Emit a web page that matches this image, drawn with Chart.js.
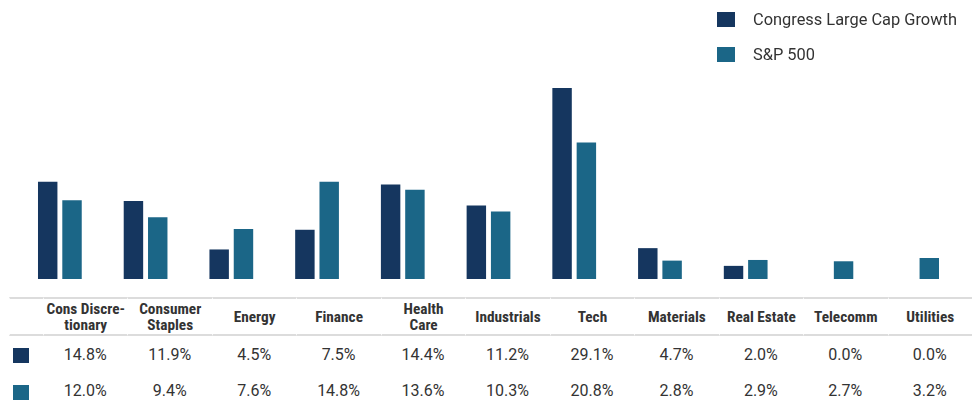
<!DOCTYPE html>
<html><head><meta charset="utf-8">
<script src="https://cdn.jsdelivr.net/npm/chart.js@4/dist/chart.umd.min.js"></script>
<style>
html,body{margin:0;padding:0;background:#fff;}
body{width:973px;height:407px;position:relative;overflow:hidden;font-family:Roboto,"Liberation Sans",sans-serif;}
#wrap{position:absolute;left:0;top:0;width:973px;height:279px;}
#legend{position:absolute;left:717px;top:12px;}
.li{display:flex;align-items:center;height:15px;margin-bottom:20px;font-size:16.4px;color:#333;white-space:nowrap;}
.sw{width:18px;height:15px;margin-right:18px;flex:none;}
table{position:absolute;left:9px;top:297px;border-collapse:separate;border-spacing:0;table-layout:fixed;width:963px;}
col.c0{width:34px;}
th{font-family:"Liberation Sans Narrow","Roboto Condensed","DejaVu Sans Condensed",sans-serif;font-weight:bold;font-size:15.3px;line-height:16px;color:#333;text-align:center;height:35px;padding:0 1px;border-top:2px solid #dcdcdc;border-bottom:2px solid #dcdcdc;border-left:1px solid #fff;}
td{font-size:16px;color:#333;text-align:center;height:36.6px;padding:0;}
td.k{text-align:left;padding-left:4px;}
.ks{display:inline-block;width:16px;height:15px;vertical-align:middle;}
</style>
</head><body>
<div id="wrap"><canvas id="c" width="973" height="279"></canvas></div>
<div id="legend"></div>
<table id="tbl"></table>
<script>
const categories = ["Cons Discre-\ntionary","Consumer\nStaples","Energy","Finance","Health\nCare","Industrials","Tech","Materials","Real Estate","Telecomm","Utilities"];
const seriesNames = ["Congress Large Cap Growth","S&P 500"];
const clcgValues = [14.8, 11.9, 4.5, 7.5, 14.4, 11.2, 29.1, 4.7, 2.0, 0.0, 0.0];
const spValues = [12.0, 9.4, 7.6, 14.8, 13.6, 10.3, 20.8, 2.8, 2.9, 2.7, 3.2];
const colors = ["#15365f", "#1b6687"];

const seriesValues = [clcgValues, spValues];

new Chart(document.getElementById('c'), {
  type: 'bar',
  data: {
    labels: categories,
    datasets: seriesNames.map((n, i) => ({
      label: n,
      data: seriesValues[i],
      backgroundColor: colors[i],
      borderWidth: 0,
      categoryPercentage: 0.567,
      barPercentage: 0.8
    }))
  },
  options: {
    responsive: false,
    animation: false,
    layout: {padding: {left: 17, right: 13, top: 0, bottom: 0}},
    scales: {
      x: {display: false},
      y: {display: false, min: 0, max: 42.5}
    },
    plugins: {legend: {display: false}, tooltip: {enabled: false}}
  }
});

// legend
const lg = document.getElementById('legend');
seriesNames.forEach((n, i) => {
  const d = document.createElement('div'); d.className = 'li';
  const s = document.createElement('span'); s.className = 'sw'; s.style.background = colors[i];
  const t = document.createElement('span'); t.textContent = n;
  d.appendChild(s); d.appendChild(t); lg.appendChild(d);
});

// table
const tbl = document.getElementById('tbl');
const cg = document.createElement('colgroup');
const c0 = document.createElement('col'); c0.className = 'c0'; cg.appendChild(c0);
categories.forEach(() => cg.appendChild(document.createElement('col')));
tbl.appendChild(cg);
const hr = document.createElement('tr');
hr.appendChild(document.createElement('th'));
categories.forEach(c => {
  const th = document.createElement('th');
  c.split('\n').forEach((line, j) => { if (j) th.appendChild(document.createElement('br')); th.appendChild(document.createTextNode(line)); });
  hr.appendChild(th);
});
tbl.appendChild(hr);
seriesValues.forEach((vals, i) => {
  const tr = document.createElement('tr');
  const k = document.createElement('td'); k.className = 'k';
  const ks = document.createElement('span'); ks.className = 'ks'; ks.style.background = colors[i];
  k.appendChild(ks); tr.appendChild(k);
  vals.forEach(v => { const td = document.createElement('td'); td.textContent = v.toFixed(1) + '%'; tr.appendChild(td); });
  tbl.appendChild(tr);
});
</script>
</body></html>
